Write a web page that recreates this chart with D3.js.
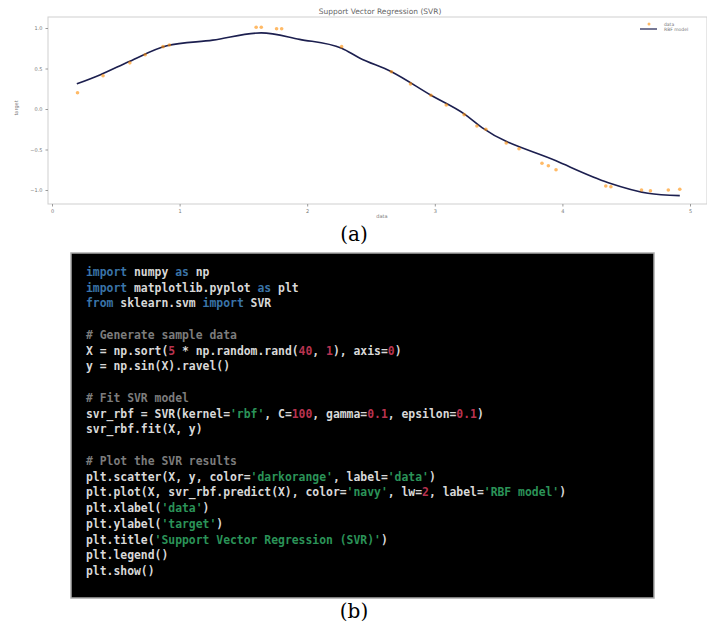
<!DOCTYPE html>
<meta charset="utf-8">
<script src="https://cdn.jsdelivr.net/npm/d3@7"></script>
<style>
body { margin: 0; background: #fff; }
text { font-family: "DejaVu Sans", sans-serif; }
.tick text { fill: #777; font-size: 5px; }
.code text { font-family: "DejaVu Sans Mono", monospace; font-weight: bold; font-size: 11.4px; }
text.cap { font-family: "DejaVu Serif", "Liberation Serif", serif; font-size: 20px; fill: #000; }
</style>
<body>
<script>

// scatter data (x, sin x)
var dataX = [0.20, 0.40, 0.61, 0.73, 0.87, 0.92, 1.60, 1.64, 1.76, 1.80, 2.27, 2.66, 2.81, 2.97, 3.09, 3.23,
             3.33, 3.40, 3.56, 3.66, 3.84, 3.89, 3.95, 4.34, 4.38, 4.62, 4.69, 4.83, 4.92];
var dataY = [0.20, 0.41, 0.57, 0.67, 0.77, 0.79, 1.01, 1.01, 0.99, 0.99, 0.77, 0.46, 0.31, 0.17, 0.05, -0.07,
             -0.21, -0.25, -0.42, -0.49, -0.67, -0.70, -0.75, -0.95, -0.96, -1.00, -1.01, -1.00, -0.99];

// RBF model prediction
var fitX = [0.195, 0.375, 0.61, 0.90, 1.26, 1.64, 1.94, 2.27, 2.41, 2.66, 2.97, 3.23, 3.37, 3.95, 4.36, 4.67, 4.92];
var fitY = [0.31, 0.42, 0.59, 0.78, 0.85, 0.94, 0.86, 0.75, 0.63, 0.46, 0.17, -0.06, -0.23, -0.64, -0.91, -1.04, -1.07];

var xTicks = [0, 1, 2, 3, 4, 5];
var yTicks = [-1.0, -0.5, 0.0, 0.5, 1.0];

// code shown in panel (b): one entry per line, tokens are [text, kind]
var codeLines = [
  [["import", "kw"], [" numpy ", "n"], ["as", "kw"], [" np", "n"]],
  [["import", "kw"], [" matplotlib.pyplot ", "n"], ["as", "kw"], [" plt", "n"]],
  [["from", "kw"], [" sklearn.svm ", "n"], ["import", "kw"], [" SVR", "n"]],
  [],
  [["# Generate sample data", "c"]],
  [["X = np.sort(", "n"], ["5", "num"], [" * np.random.rand(", "n"], ["40", "num"], [", ", "n"], ["1", "num"], ["), axis=", "n"], ["0", "num"], [")", "n"]],
  [["y = np.sin(X).ravel()", "n"]],
  [],
  [["# Fit SVR model", "c"]],
  [["svr_rbf = SVR(kernel=", "n"], ["'rbf'", "s"], [", C=", "n"], ["100", "num"], [", gamma=", "n"], ["0.1", "num"], [", epsilon=", "n"], ["0.1", "num"], [")", "n"]],
  [["svr_rbf.fit(X, y)", "n"]],
  [],
  [["# Plot the SVR results", "c"]],
  [["plt.scatter(X, y, color=", "n"], ["'darkorange'", "s"], [", label=", "n"], ["'data'", "s"], [")", "n"]],
  [["plt.plot(X, svr_rbf.predict(X), color=", "n"], ["'navy'", "s"], [", lw=", "n"], ["2", "num"], [", label=", "n"], ["'RBF model'", "s"], [")", "n"]],
  [["plt.xlabel(", "n"], ["'data'", "s"], [")", "n"]],
  [["plt.ylabel(", "n"], ["'target'", "s"], [")", "n"]],
  [["plt.title(", "n"], ["'Support Vector Regression (SVR)'", "s"], [")", "n"]],
  [["plt.legend()", "n"]],
  [["plt.show()", "n"]]
];
var tokenColor = { kw: "#3a74a8", n: "#d8d8d8", c: "#7c7c7c", num: "#b8334f", s: "#2b9358" };

var width = 707, height = 624;
var svg = d3.select("body").append("svg")
    .attr("width", width)
    .attr("height", height);

// ---- panel (a) ----
var frame = {left: 48, right: 707, top: 17, bottom: 204};
var x = d3.scaleLinear().domain([0, 5]).range([52, 690]);
var y = d3.scaleLinear().domain([-1, 1]).range([190, 28]);

var plot = svg.append("g");

plot.append("rect")
    .attr("x", frame.left).attr("y", frame.top)
    .attr("width", frame.right - frame.left).attr("height", frame.bottom - frame.top)
    .attr("fill", "none").attr("stroke", "#cfcfcf").attr("stroke-width", 1);

var xAxis = plot.append("g")
    .attr("transform", "translate(0," + frame.bottom + ")")
    .call(d3.axisBottom(x).tickValues(xTicks).tickSize(2.5).tickFormat(d3.format("d")));
var yAxis = plot.append("g")
    .attr("transform", "translate(" + frame.left + ",0)")
    .call(d3.axisLeft(y).tickValues(yTicks).tickSize(2.5).tickFormat(d3.format(".1f")));
[xAxis, yAxis].forEach(function(a) {
  a.select(".domain").remove();
  a.selectAll(".tick line").attr("stroke", "#999");
});

plot.append("text")
    .attr("x", 380).attr("y", 14)
    .attr("text-anchor", "middle")
    .attr("font-size", 7.5).attr("fill", "#666")
    .text("Support Vector Regression (SVR)");

plot.append("text")
    .attr("x", 382).attr("y", 218)
    .attr("text-anchor", "middle")
    .attr("font-size", 5).attr("fill", "#777")
    .text("data");

plot.append("text")
    .attr("transform", "translate(18,108) rotate(-90)")
    .attr("text-anchor", "middle")
    .attr("font-size", 5).attr("fill", "#777")
    .text("target");

var fit = d3.zip(fitX, fitY);
plot.append("path")
    .datum(fit)
    .attr("fill", "none")
    .attr("stroke", "#1c1f4f")
    .attr("stroke-width", 1.6)
    .attr("d", d3.line().curve(d3.curveMonotoneX)
        .x(function(d) { return x(d[0]); })
        .y(function(d) { return y(d[1]); }));

plot.selectAll("circle.pt")
    .data(d3.zip(dataX, dataY))
  .enter().append("circle")
    .attr("class", "pt")
    .attr("cx", function(d) { return x(d[0]); })
    .attr("cy", function(d) { return y(d[1]); })
    .attr("r", 1.8)
    .attr("fill", "#ff8c00")
    .attr("fill-opacity", 0.6);

// legend
var leg = plot.append("g").attr("transform", "translate(640,20)");
leg.append("circle").attr("cx", 9).attr("cy", 4).attr("r", 1.5).attr("fill", "#ff8c00").attr("fill-opacity", 0.6);
leg.append("line").attr("x1", 0).attr("x2", 17).attr("y1", 9).attr("y2", 9)
    .attr("stroke", "#1c1f4f").attr("stroke-width", 1.2);
leg.append("text").attr("x", 24).attr("y", 5.5).attr("font-size", 4.5).attr("fill", "#777").text("data");
leg.append("text").attr("x", 24).attr("y", 10.5).attr("font-size", 4.5).attr("fill", "#777").text("RBF model");

svg.append("text").attr("class", "cap")
    .attr("x", 354).attr("y", 241).attr("text-anchor", "middle").text("(a)");

// ---- panel (b) ----
var box = {left: 71, right: 654, top: 253, bottom: 598};
svg.append("rect")
    .attr("x", box.left).attr("y", box.top)
    .attr("width", box.right - box.left).attr("height", box.bottom - box.top)
    .attr("fill", "#000").attr("stroke", "#aaa").attr("stroke-width", 1.5);

var lineY = d3.scaleLinear().domain([0, codeLines.length - 1]).range([276, 575]);
var code = svg.append("g").attr("class", "code");
codeLines.forEach(function(tokens, i) {
  var t = code.append("text")
      .attr("x", 86).attr("y", lineY(i))
      .attr("xml:space", "preserve");
  tokens.forEach(function(tok) {
    t.append("tspan").attr("fill", tokenColor[tok[1]]).text(tok[0]);
  });
});

svg.append("text").attr("class", "cap")
    .attr("x", 354).attr("y", 618).attr("text-anchor", "middle").text("(b)");

</script>
</body>
</html>
